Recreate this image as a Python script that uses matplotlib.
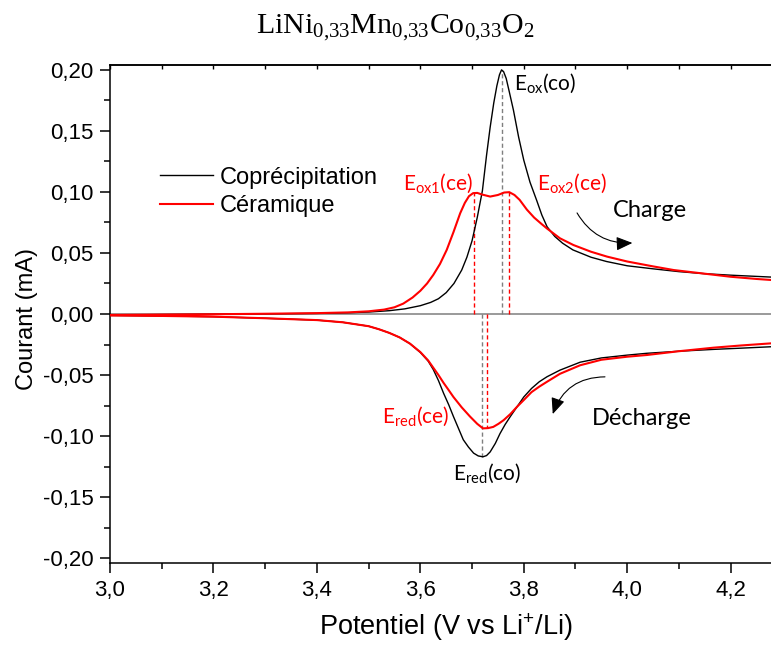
import matplotlib
matplotlib.use("Agg")
import matplotlib.pyplot as plt
from matplotlib.ticker import MultipleLocator, FuncFormatter

# ---------------------------------------------------------------
# Données lues sur la voltampérométrie (courant en mA)
# ---------------------------------------------------------------
# Coprécipitation - balayage aller (charge / oxydation)
pot_ox_co = [3.000, 3.100, 3.200, 3.300, 3.400, 3.460, 3.500, 3.540, 3.570, 3.600,
             3.620, 3.635, 3.650, 3.665, 3.680, 3.690, 3.700, 3.710, 3.720, 3.728,
             3.735, 3.742, 3.748, 3.753, 3.757, 3.761, 3.766, 3.772, 3.780, 3.790,
             3.800, 3.812, 3.825, 3.835, 3.845, 3.860, 3.875, 3.895, 3.930, 3.960,
             4.000, 4.050, 4.100, 4.150, 4.200, 4.250, 4.280]
cur_ox_co = [-0.0008, -0.0005, -0.0002, 0.0001, 0.0005, 0.0010, 0.0016, 0.0027, 0.0042, 0.0068,
             0.0095, 0.0125, 0.0175, 0.0250, 0.0360, 0.0465, 0.0600, 0.0790, 0.1010, 0.1300,
             0.1530, 0.1730, 0.1870, 0.1960, 0.2000, 0.1985, 0.1930, 0.1820, 0.1670, 0.1450,
             0.1260, 0.1080, 0.0930, 0.0810, 0.0715, 0.0635, 0.0580, 0.0525, 0.0465, 0.0430,
             0.0395, 0.0370, 0.0347, 0.0330, 0.0318, 0.0308, 0.0302]

# Coprécipitation - balayage retour (décharge / réduction)
pot_red_co = [3.000, 3.100, 3.200, 3.300, 3.400, 3.450, 3.500, 3.520, 3.540, 3.560,
              3.580, 3.600, 3.615, 3.625, 3.635, 3.645, 3.655, 3.664, 3.674, 3.683,
              3.693, 3.703, 3.712, 3.721, 3.728, 3.735, 3.745, 3.754, 3.764, 3.774,
              3.787, 3.800, 3.815, 3.830, 3.845, 3.870, 3.909, 3.950, 4.000, 4.038,
              4.100, 4.167, 4.220, 4.280]
cur_red_co = [-0.0012, -0.0016, -0.0022, -0.0035, -0.0050, -0.0068, -0.0100, -0.0125, -0.0155, -0.0192,
              -0.0243, -0.0315, -0.0385, -0.0455, -0.0545, -0.0650, -0.0745, -0.0840, -0.0940, -0.1030,
              -0.1090, -0.1140, -0.1163, -0.1170, -0.1160, -0.1130, -0.1060, -0.0980, -0.0905, -0.0840,
              -0.0760, -0.0680, -0.0610, -0.0555, -0.0514, -0.0460, -0.0395, -0.0360, -0.0337, -0.0322,
              -0.0305, -0.0290, -0.0280, -0.0268]

# Céramique - balayage aller
pot_ox_ce = [3.000, 3.100, 3.200, 3.300, 3.400, 3.460, 3.500, 3.530, 3.550, 3.567,
             3.585, 3.600, 3.613, 3.625, 3.638, 3.651, 3.664, 3.677, 3.686, 3.694,
             3.702, 3.710, 3.720, 3.735, 3.750, 3.762, 3.772, 3.782, 3.792, 3.806,
             3.820, 3.835, 3.845, 3.870, 3.896, 3.930, 3.961, 4.000, 4.050, 4.090,
             4.150, 4.200, 4.250, 4.280]
cur_ox_ce = [-0.0008, -0.0005, -0.0002, 0.0002, 0.0007, 0.0013, 0.0022, 0.0036, 0.0055, 0.0085,
             0.0135, 0.0190, 0.0250, 0.0320, 0.0410, 0.0525, 0.0670, 0.0825, 0.0910, 0.0965,
             0.0990, 0.0992, 0.0978, 0.0962, 0.0975, 0.0995, 0.0998, 0.0975, 0.0935, 0.0855,
             0.0790, 0.0735, 0.0700, 0.0620, 0.0565, 0.0510, 0.0470, 0.0430, 0.0390, 0.0360,
             0.0330, 0.0305, 0.0287, 0.0278]

# Céramique - balayage retour
pot_red_ce = [3.000, 3.100, 3.200, 3.300, 3.400, 3.450, 3.500, 3.520, 3.540, 3.560,
              3.580, 3.600, 3.615, 3.625, 3.635, 3.645, 3.655, 3.664, 3.680, 3.696,
              3.710, 3.721, 3.731, 3.741, 3.751, 3.761, 3.774, 3.787, 3.800, 3.815,
              3.830, 3.845, 3.870, 3.909, 3.950, 4.000, 4.038, 4.100, 4.167, 4.220,
              4.280]
cur_red_ce = [-0.0012, -0.0016, -0.0022, -0.0035, -0.0050, -0.0068, -0.0100, -0.0125, -0.0155, -0.0192,
              -0.0243, -0.0312, -0.0380, -0.0440, -0.0500, -0.0565, -0.0625, -0.0680, -0.0765, -0.0840,
              -0.0900, -0.0937, -0.0935, -0.0925, -0.0900, -0.0870, -0.0820, -0.0760, -0.0705, -0.0640,
              -0.0595, -0.0555, -0.0490, -0.0420, -0.0375, -0.0350, -0.0336, -0.0305, -0.0276, -0.0258,
              -0.0240]

# Potentiels des pics (lignes pointillées) et courants correspondants
pics_co_pot = [3.7576, 3.7195]
pics_co_cur = [0.2000, -0.1170]
pics_ce_pot = [3.704, 3.772, 3.729]
pics_ce_cur = [0.0990, 0.0998, -0.0935]

ROUGE = "#ff0000"
GRIS = "#7f7f7f"

fig = plt.figure(figsize=(7.71, 6.46), dpi=100)
ax = fig.add_axes([0.1427, 0.1285, 0.8573, 0.7709])

ax.axhline(0, color=GRIS, lw=1.1, zorder=1)

# courbes
ax.plot(pot_ox_co + pot_red_co[::-1], cur_ox_co + cur_red_co[::-1], color="black", lw=1.0,
        label="Coprécipitation", zorder=3)
ax.plot(pot_ox_ce + pot_red_ce[::-1], cur_ox_ce + cur_red_ce[::-1], color=ROUGE, lw=1.5,
        label="Céramique", zorder=4)

# pointillés verticaux vers les pics
for p, c in zip(pics_co_pot, pics_co_cur):
    ax.plot([p, p], [0, c], color=GRIS, lw=1.0, ls=(0, (3, 2)), zorder=2)
for p, c in zip(pics_ce_pot, pics_ce_cur):
    ax.plot([p, p], [0, c], color=ROUGE, lw=1.0, ls=(0, (3, 2)), zorder=2)

# annotations
ann = dict(family="Lato", fontsize=15, va="baseline", ha="left")
ax.text(3.7814, 0.1836, r"$\mathregular{E_{ox}}$(co)", color="black", **ann)
ax.text(3.5667, 0.1016, r"$\mathregular{E_{ox1}}$(ce)", color=ROUGE, **ann)
ax.text(3.826, 0.1016, r"$\mathregular{E_{ox2}}$(ce)", color=ROUGE, **ann)
ax.text(3.526, -0.0893, r"$\mathregular{E_{red}}$(ce)", color=ROUGE, **ann)
ax.text(3.6634, -0.1360, r"$\mathregular{E_{red}}$(co)", color="black", **ann)
ax.text(3.973, 0.0795, "Charge", color="black", family="Lato", fontsize=17, va="baseline")
ax.text(3.932, -0.0910, "Décharge", color="black", family="Lato", fontsize=17, va="baseline")

fleche = dict(arrowstyle="-|>,head_length=0.7,head_width=0.3", color="black", lw=0.8,
              shrinkA=0, shrinkB=0, mutation_scale=14)
ax.annotate("", xy=(4.010, 0.0582), xytext=(3.903, 0.0828),
            arrowprops=dict(connectionstyle="arc3,rad=0.3", **fleche))
ax.annotate("", xy=(3.856, -0.0820), xytext=(3.957, -0.0515),
            arrowprops=dict(connectionstyle="arc3,rad=0.35", **fleche))

# axes
ax.set_xlim(3.0, 4.278)
ax.set_ylim(-0.204, 0.204)
ax.spines["right"].set_visible(False)
for s in ["left", "bottom", "top"]:
    ax.spines[s].set_linewidth(1.1)

ax.xaxis.set_major_locator(MultipleLocator(0.2))
ax.xaxis.set_minor_locator(MultipleLocator(0.1))
ax.yaxis.set_major_locator(MultipleLocator(0.05))
ax.yaxis.set_minor_locator(MultipleLocator(0.025))
ax.xaxis.set_major_formatter(FuncFormatter(lambda v, pos: f"{v:.1f}".replace(".", ",")))
ax.yaxis.set_major_formatter(FuncFormatter(
    lambda v, pos: ("0,00" if abs(v) < 1e-9 else f"{v:.2f}".replace(".", ","))))

ax.tick_params(which="major", direction="out", length=7, width=1.1, labelsize=16, pad=5)
ax.tick_params(which="minor", direction="out", length=4, width=1.1)
for lab in ax.get_xticklabels() + ax.get_yticklabels():
    lab.set_family("Liberation Sans")

haut = ax.secondary_xaxis("top")
haut.xaxis.set_major_locator(MultipleLocator(0.1))
haut.tick_params(direction="in", length=3, width=1.0, labeltop=False)
haut.spines["top"].set_linewidth(1.1)

ax.set_xlabel(r"Potentiel (V vs Li$\mathregular{^{+}}$/Li)", family="Liberation Sans", fontsize=19.5)
ax.set_ylabel("Courant (mA)", family="Liberation Sans", fontsize=17)
ax.xaxis.set_label_coords(0.508, -0.098)
ax.yaxis.set_label_coords(-0.109, 0.49)

leg = ax.legend(loc="upper left", bbox_to_anchor=(0.0756, 0.796), frameon=False,
                borderpad=0, borderaxespad=0, handlelength=2.25, handletextpad=0.3,
                labelspacing=0.28, prop={"family": "Liberation Sans", "size": 17})

fig.text(0.513, 0.949, r"$\mathregular{LiNi_{0{,}33}Mn_{0{,}33}Co_{0{,}33}O_{2}}$",
         family="Liberation Serif", fontsize=21.5, ha="center", va="baseline")

fig.savefig("out.png", dpi=100)
